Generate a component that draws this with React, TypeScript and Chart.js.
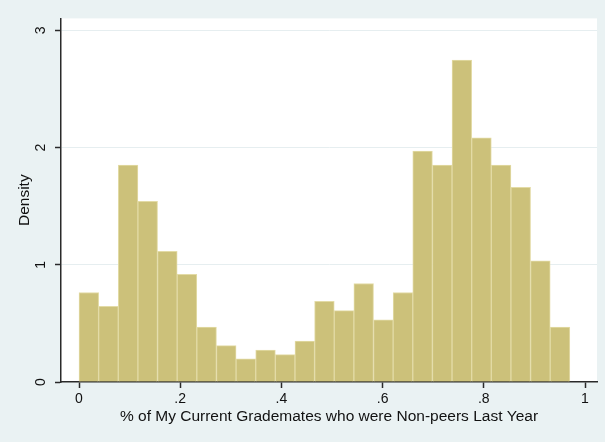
import React, { useEffect, useRef } from "react";
import { Chart, registerables } from "chart.js";

Chart.register(...registerables);

// Histogram bin densities (25 bins starting at 0)
const density: number[] = [
  0.763, 0.645, 1.851, 1.541, 1.114, 0.919, 0.468, 0.31, 0.197, 0.273,
  0.234, 0.349, 0.687, 0.609, 0.84, 0.53, 0.763, 1.97, 1.851, 2.745,
  2.082, 1.851, 1.66, 1.034, 0.468,
];
const binStart = 0;
const binWidth = 0.0388;

const xTickValues: number[] = [0, 0.2, 0.4, 0.6, 0.8, 1];
const xTickLabels: string[] = ["0", ".2", ".4", ".6", ".8", "1"];
const yTickValues: number[] = [0, 1, 2, 3];
const yTickLabels: string[] = ["0", "1", "2", "3"];

const xTitle = "% of My Current Grademates who were Non-peers Last Year";
const yTitle = "Density";

const FONT = "'Liberation Sans', Arial, sans-serif";
const TEXT = "#111111";
const AXIS = "#2a2a2a";
const BG = "#EAF2F3";
const GRID = "#E6EEF0";
const FILL = "#CCC17A";
const EDGE = "#E3DBA6";

const plotBg = {
  id: "plotBg",
  beforeDraw(chart: any) {
    const { ctx, chartArea } = chart;
    if (!chartArea) return;
    ctx.save();
    ctx.fillStyle = "#ffffff";
    ctx.fillRect(
      chartArea.left,
      chartArea.top,
      chartArea.right - chartArea.left,
      chartArea.bottom - chartArea.top
    );
    ctx.restore();
  },
};

export default function App() {
  const ref = useRef<HTMLCanvasElement | null>(null);

  useEffect(() => {
    document.body.style.margin = "0";
    const canvas = ref.current;
    if (!canvas) return;
    const points = density.map((d, i) => ({
      x: binStart + binWidth * (i + 0.5),
      y: d,
    }));
    const chart = new Chart(canvas, {
      type: "bar",
      data: {
        datasets: [
          {
            data: points as any,
            backgroundColor: FILL,
            borderColor: EDGE,
            borderWidth: 1,
            borderSkipped: "bottom",
            categoryPercentage: 1,
            barPercentage: 1,
          },
        ],
      },
      options: {
        responsive: false,
        animation: false,
        devicePixelRatio: 1,
        layout: { padding: { top: 15, right: 8, left: 0, bottom: 0 } },
        plugins: {
          legend: { display: false },
          tooltip: { enabled: false },
        },
        scales: {
          x: {
            type: "linear",
            min: -0.0356,
            max: 1.0237,
            offset: false,
            afterBuildTicks: (scale: any) => {
              scale.ticks = xTickValues.map((v) => ({ value: v }));
            },
            afterFit: (scale: any) => {
              scale.height = 60;
            },
            ticks: {
              autoSkip: false,
              maxRotation: 0,
              minRotation: 0,
              padding: 3,
              color: TEXT,
              font: { family: FONT, size: 14 },
              callback: (_v: any, i: number) => xTickLabels[i],
            },
            grid: {
              offset: false,
              drawOnChartArea: false,
              drawTicks: true,
              tickLength: 6,
              tickColor: AXIS,
              tickWidth: 1.5,
            },
            border: { display: true, color: AXIS, width: 1.5 },
            title: {
              display: true,
              text: xTitle,
              color: TEXT,
              font: { family: FONT, size: 15.5 },
              padding: { top: 0, bottom: 16 },
            },
          },
          y: {
            type: "linear",
            min: 0,
            max: 3.101,
            afterBuildTicks: (scale: any) => {
              scale.ticks = yTickValues.map((v) => ({ value: v }));
            },
            afterFit: (scale: any) => {
              scale.width = 61;
            },
            ticks: {
              autoSkip: false,
              minRotation: 90,
              maxRotation: 90,
              crossAlign: "center",
              padding: 10,
              color: TEXT,
              font: { family: FONT, size: 14 },
              callback: (_v: any, i: number) => yTickLabels[i],
            },
            grid: {
              drawOnChartArea: true,
              drawTicks: true,
              tickLength: 6,
              tickColor: AXIS,
              tickWidth: 1.5,
              lineWidth: 1,
              color: (c: any) =>
                c.tick && c.tick.value === 0 ? "rgba(0,0,0,0)" : GRID,
            },
            border: { display: true, color: AXIS, width: 1.5 },
            title: {
              display: true,
              text: yTitle,
              color: TEXT,
              font: { family: FONT, size: 15.5 },
              padding: { top: 15, bottom: 0 },
            },
          },
        },
      },
      plugins: [plotBg],
    });
    return () => chart.destroy();
  }, []);

  return (
    <div style={{ width: 605, height: 442, background: BG }}>
      <canvas ref={ref} width={605} height={442} style={{ display: "block" }} />
    </div>
  );
}
